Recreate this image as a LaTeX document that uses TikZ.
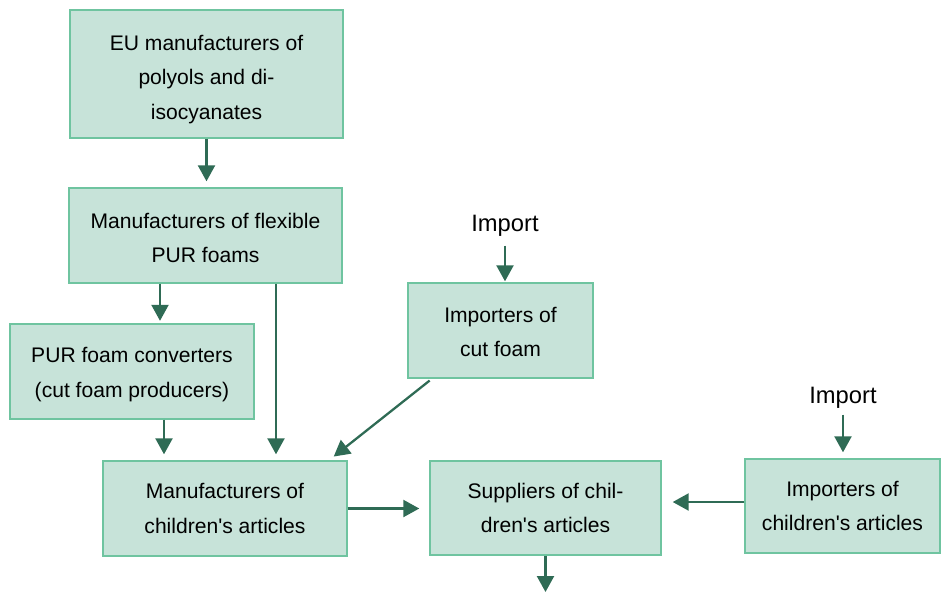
\documentclass[tikz,border=0pt]{standalone}
\usepackage{fontspec}
\setmainfont{Liberation Sans}
\usepackage{tikz}
\usetikzlibrary{arrows.meta}
\definecolor{boxfill}{HTML}{C7E3D9}
\definecolor{boxline}{HTML}{6FC4A0}
\definecolor{arrowcolor}{HTML}{2F6B55}
\tikzset{chainbox/.style={shape=rectangle,draw=boxline,fill=boxfill,line width=0.8pt,align=center,inner sep=0pt,font=\fontsize{12}{19.6}\selectfont},
  importlabel/.style={font=\fontsize{13.5}{16}\selectfont,inner sep=1pt},
  flow/.style={draw=arrowcolor,line width=1.3pt,-{Triangle[length=0.32cm,width=0.34cm]},shorten >=0.12cm}}
\newcommand{\q}{\textquotesingle}
\newcommand{\topstrut}[1]{\rule{0pt}{#1}}

\begin{document}
\begin{tikzpicture}
		\useasboundingbox (0,0) rectangle (18.84,-11.88);
		%
		\node[chainbox,minimum width=5.46cm,minimum height=2.56cm] (eu) at (4.13,-1.48) {\topstrut{14.5pt}EU manufacturers of\\polyols and di-\\isocyanates};
		\node[chainbox,minimum width=5.46cm,minimum height=1.90cm] (flex) at (4.11,-4.71) {\topstrut{11.5pt}Manufacturers of flexible\\PUR foams};
		\node[chainbox,minimum width=4.88cm,minimum height=1.90cm] (conv) at (2.64,-7.43) {\topstrut{12pt}PUR foam converters\\(cut foam producers)};
		\node[chainbox,minimum width=3.70cm,minimum height=1.90cm] (cutimp) at (10.01,-6.61) {\topstrut{10.5pt}Importers of\\cut foam};
		\node[chainbox,minimum width=4.88cm,minimum height=1.90cm] (maker) at (4.50,-10.17) {Manufacturers of\\children\q s articles};
		\node[chainbox,minimum width=4.62cm,minimum height=1.88cm] (supply) at (10.91,-10.16) {Suppliers of chil-\\dren\q s articles};
		\node[chainbox,minimum width=3.90cm,minimum height=1.88cm] (kidimp) at (16.85,-10.12) {Importers of\\children\q s articles};
		%
		\node[importlabel] (imp1) at (10.10,-4.52) {Import};
		\node[importlabel] (imp2) at (16.86,-7.96) {Import};
		\coordinate (market) at (10.90,-11.84);
		%
		\draw [flow] (eu.south) -- (eu.south |- flex.north);
		\draw [flow,shorten >=0.05cm] ([xshift=-0.91cm]flex.south) -- ([xshift=-0.91cm]flex.south |- conv.north);
		\draw [flow] ([xshift=1.41cm]flex.south) -- ([xshift=1.41cm]flex.south |- maker.north);
		\draw [flow] ([xshift=0.64cm]conv.south) -- ([xshift=0.64cm]conv.south |- maker.north);
		\draw [flow,shorten <=0.14cm,shorten >=0.02cm] (imp1.south) -- (imp1.south |- cutimp.north);
		\draw [flow,shorten <=0.06cm] ([xshift=-1.37cm]cutimp.south) -- ([xshift=2.08cm]maker.north);
		\draw [flow,shorten >=0.2cm] (maker.east) -- (maker.east -| supply.west);
		\draw [flow,shorten >=0.22cm] ([yshift=0.08cm]kidimp.west) -- ([yshift=0.08cm]kidimp.west -| supply.east);
		\draw [flow,shorten <=0.08cm] (imp2.south) -- (imp2.south |- kidimp.north);
		\draw [flow,shorten >=0pt] (supply.south) -- (supply.south |- market);
\end{tikzpicture}
\end{document}
